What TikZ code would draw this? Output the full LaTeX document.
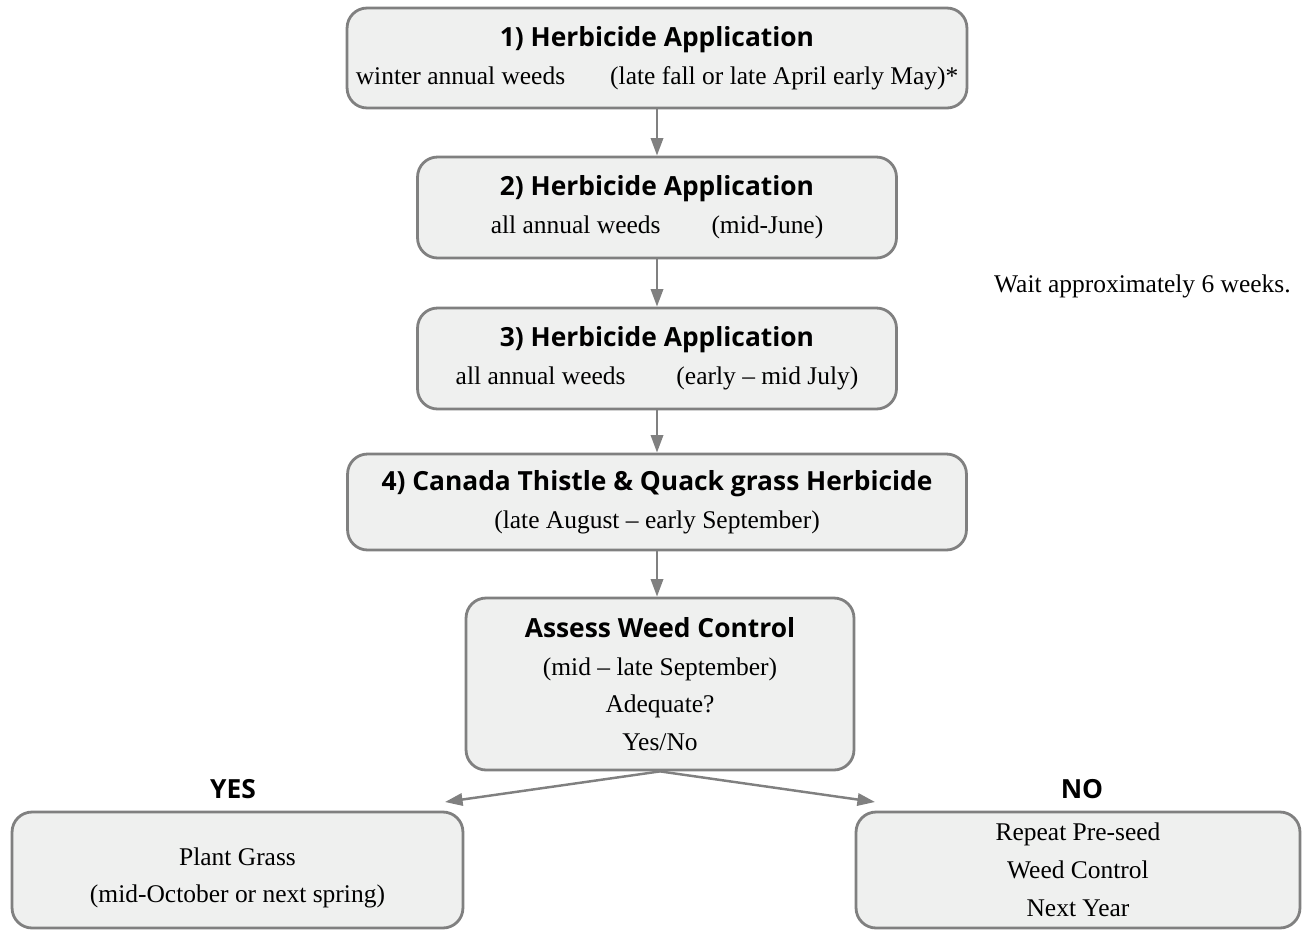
\documentclass[tikz,border=0pt]{standalone}
\usepackage{fontspec}
\setmainfont{Liberation Serif}
\newfontfamily\headfont{Open Sans}
\usepackage{xcolor}
\usepackage{tikz}
\usetikzlibrary{positioning, arrows.meta}
\definecolor{StepGray}{RGB}{128,128,128}
\definecolor{StepFill}{RGB}{239,240,239}
\newcommand{\stephead}[1]{{\headfont\bfseries\fontsize{15}{21.5}\selectfont #1}}
\tikzset{
    stepbox/.style={
        draw=StepGray, fill=StepFill, line width=1.6pt, rounded corners=0.4cm,
        align=center, inner sep=0pt, anchor=center,
        font=\fontsize{14.5}{21.5}\selectfont
    },
    flowarrow/.style={
        -{Triangle[length=10pt, width=7pt]}, line width=1.4pt, StepGray
    },
    branchlbl/.style={
        font=\headfont\bfseries\fontsize{15}{18}\selectfont
    }
}

\begin{document}
\begin{tikzpicture}[x=0.02cm, y=-0.02cm]
    \useasboundingbox (0,0) rectangle (1308,930);

    % main column
    \node[stepbox, minimum width=12.4cm, minimum height=2cm] (box1) at (657,58)
        {\stephead{1) Herbicide Application}\\
         winter annual weeds\hspace{22pt} (late fall or late April early May)*};
    \node[stepbox, minimum width=9.58cm, minimum height=2.02cm] (box2) at (657,207.5)
        {\stephead{2) Herbicide Application}\\
         all annual weeds\qquad (mid-June)};
    \node[stepbox, minimum width=9.58cm, minimum height=2.02cm] (box3) at (657,358.5)
        {\stephead{3) Herbicide Application}\\
         all annual weeds\qquad (early -- mid July)};
    \node[stepbox, minimum width=12.38cm, minimum height=1.92cm] (box4) at (657,502)
        {\stephead{4) Canada Thistle \& Quack grass Herbicide}\\
         (late August -- early September)};
    \node[stepbox, minimum width=7.76cm, minimum height=3.44cm] (assess) at (660,684)
        {\stephead{Assess Weed Control}\\
         (mid -- late September)\\ Adequate?\\ Yes/No};

    % outcomes
    \node[stepbox, minimum width=9.02cm, minimum height=2.32cm] (yes) at (237.5,870)
        {\rule{0pt}{19pt}Plant Grass\\ (mid-October or next spring)};
    \node[stepbox, minimum width=8.88cm, minimum height=2.32cm] (no) at (1078,870)
        {Repeat Pre-seed\\ Weed Control\\ Next Year};

    \node[branchlbl] (yeslbl) at (233,789) {YES};
    \node[branchlbl] (nolbl) at (1082,789) {NO};
    \node[font=\fontsize{14.5}{18}\selectfont, anchor=west] (waitlbl) at (988,286)
        {Wait approximately 6 weeks.};

    \coordinate (yesend) at (445,802);
    \coordinate (noend) at (875,802);

    \draw[flowarrow] (box1) -- (box2);
    \draw[flowarrow] (box2) -- (box3);
    \draw[flowarrow] (box3) -- (box4);
    \draw[flowarrow] (box4.south) -- (box4.south |- assess.north);
    \draw[flowarrow] (assess.south) -- (yesend);
    \draw[flowarrow] (assess.south) -- (noend);
\end{tikzpicture}
\end{document}
